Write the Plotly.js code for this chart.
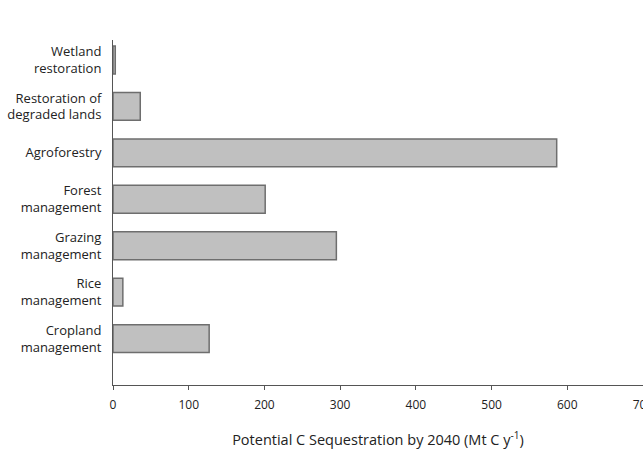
<!DOCTYPE html>
<html>
<head>
<meta charset="utf-8">
<script src="https://cdn.plot.ly/plotly-3.0.1.min.js"></script>
<style>html,body{margin:0;padding:0;background:#fff;overflow:hidden;}#wrap{width:643px;height:452px;overflow:hidden;}#chart{width:665px;height:452px;}</style>
</head>
<body>
<div id="wrap"><div id="chart"></div></div>
<script>
const categories = [
  "Cropland<br>management",
  "Rice<br>management",
  "Grazing<br>management",
  "Forest<br>management",
  "Agroforestry",
  "Restoration of<br>degraded lands",
  "Wetland<br>restoration"
];
const values = [127, 13, 295, 201, 586, 36, 3];
const xTicks = [0, 100, 200, 300, 400, 500, 600, 700];

Plotly.newPlot('chart', [{
  type: 'bar',
  orientation: 'h',
  y: categories,
  x: values,
  marker: {color: '#c0c0c0', line: {color: '#6e6e6e', width: 1.5}},
  hoverinfo: 'none'
}], {
  width: 665, height: 452,
  margin: {l: 113, r: 22, t: 40, b: 67},
  paper_bgcolor: '#fff', plot_bgcolor: '#fff',
  showlegend: false,
  bargap: 0.4,
  font: {family: 'Open Sans, sans-serif', color: '#222', size: 12},
  xaxis: {
    range: [0, 700],
    tickvals: xTicks,
    ticktext: xTicks.map(String),
    showgrid: false, zeroline: false,
    showline: true, linecolor: '#555', linewidth: 1,
    ticks: 'outside', ticklen: 4, tickcolor: '#555',
    ticklabelstandoff: 5,
    tickfont: {size: 12, color: '#222'},
    title: {text: 'Potential C Sequestration by 2040 (Mt C y<sup>-1</sup>)', font: {size: 14.5, color: '#222'}, standoff: 22}
  },
  yaxis: {
    type: 'category',
    range: [-1.0, 6.43],
    showgrid: false, zeroline: false,
    showline: true, linecolor: '#555', linewidth: 1,
    ticks: '', ticklabelstandoff: 8,
    tickfont: {size: 13, color: '#222'}
  }
}, {displayModeBar: false, staticPlot: true});
</script>
</body>
</html>
